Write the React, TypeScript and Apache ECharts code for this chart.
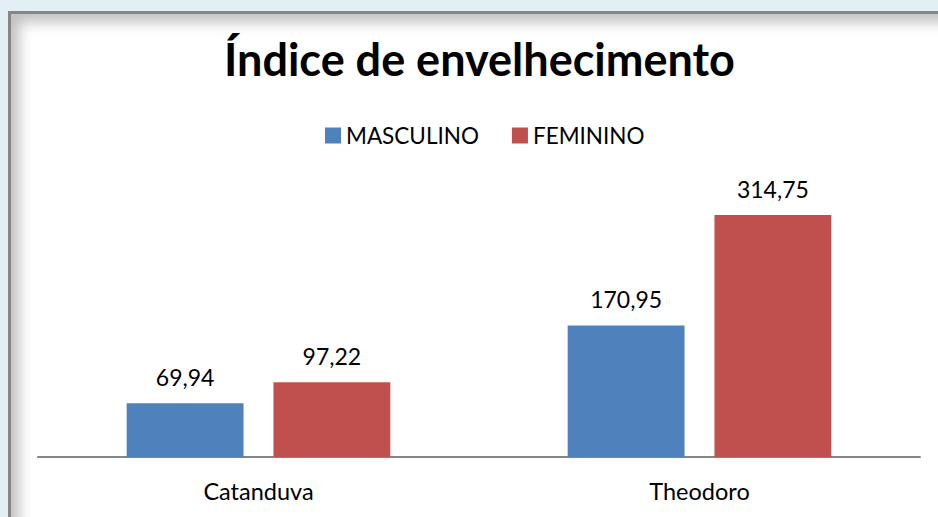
import React, { useEffect, useRef } from "react";
import * as echarts from "echarts";

const categories = ["Catanduva", "Theodoro"];
const masculino = [69.94, 170.95];
const feminino = [97.22, 314.75];
const seriesNames = ["MASCULINO", "FEMININO"];

const fmt = (v: number) => v.toFixed(2).replace(".", ",");

export default function App() {
  const ref = useRef<HTMLDivElement>(null);
  useEffect(() => {
    const chart = echarts.init(ref.current!, undefined, { renderer: "svg" });
    const font = "Lato, 'Open Sans', sans-serif";
    chart.setOption({
      animation: false,
      title: {
        text: "Índice de envelhecimento",
        left: 211,
        top: 20,
        textStyle: { fontFamily: font, fontSize: 45, fontWeight: "bold", color: "#000" },
      },
      legend: {
        top: 108,
        left: 312,
        itemWidth: 16,
        itemHeight: 16,
        itemGap: 33,
        icon: "rect",
        textStyle: { fontFamily: font, fontSize: 22.5, color: "#000" },
        data: seriesNames,
      },
      grid: { left: 30, right: 18, top: 177, bottom: 60, containLabel: false },
      xAxis: {
        type: "category",
        data: categories,
        axisLine: { lineStyle: { color: "#868686", width: 2 } },
        axisTick: { show: false },
        axisLabel: { fontFamily: font, fontSize: 23.5, color: "#000", margin: 22 },
      },
      yAxis: { type: "value", min: 0, max: 350, show: false },
      series: [
        {
          name: seriesNames[0],
          type: "bar",
          data: masculino,
          barWidth: "26.5%",
          barGap: "25.6%",
          itemStyle: { color: "#4f81bd" },
          label: { show: true, position: "top", distance: 15, formatter: (p: any) => fmt(p.value), fontFamily: font, fontSize: 23, color: "#000" },
        },
        {
          name: seriesNames[1],
          type: "bar",
          data: feminino,
          barWidth: "26.5%",
          itemStyle: { color: "#c0504d" },
          label: { show: true, position: "top", distance: 15, formatter: (p: any) => fmt(p.value), fontFamily: font, fontSize: 23, color: "#000" },
        },
      ],
    });
    return () => chart.dispose();
  }, []);
  return (
    <div style={{ position: "fixed", left: 0, top: 0, width: 938, height: 517, background: "#e2f0f5", overflow: "hidden" }}>
      <div
        style={{
          position: "absolute",
          left: 8,
          top: 11,
          width: 940,
          height: 520,
          background: "#fff",
          borderTop: "3px solid #868686",
          borderLeft: "3px solid #868686",
          boxShadow: "inset 8px 8px 14px rgba(0,0,0,0.25)",
          boxSizing: "border-box",
        }}
      />
      <div ref={ref} style={{ position: "absolute", left: 8, top: 11, width: 930, height: 506 }} />
    </div>
  );
}
